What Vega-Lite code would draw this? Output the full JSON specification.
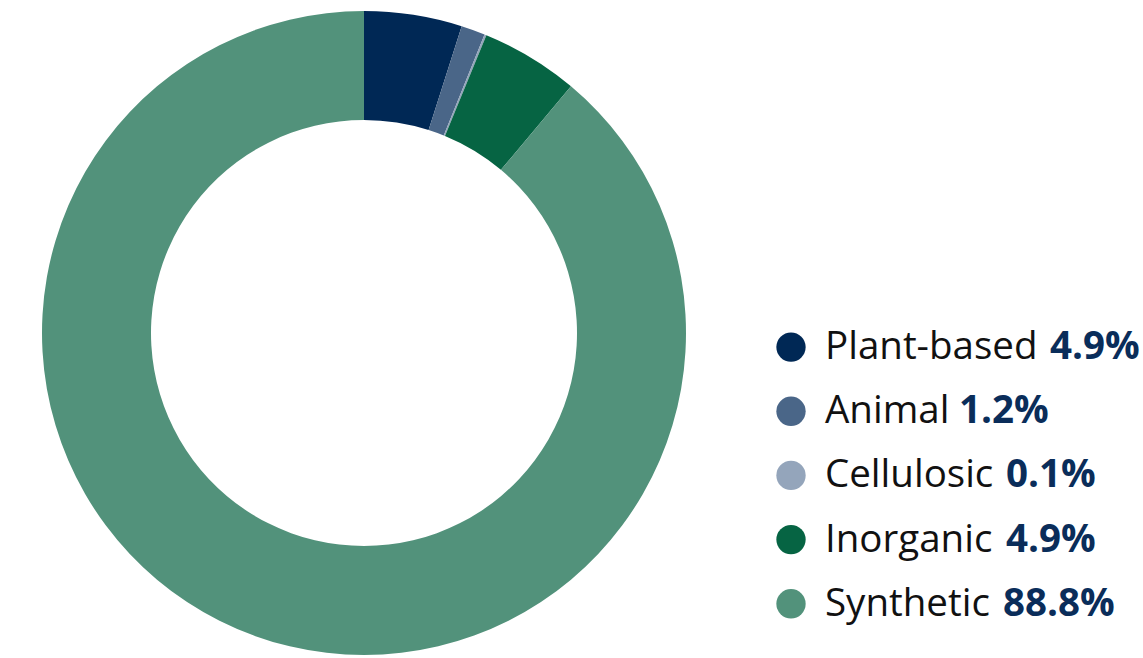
{
  "$schema": "https://vega.github.io/schema/vega-lite/v6.json",
  "padding": 0,
  "spacing": 0,
  "background": "white",
  "config": {"view": {"stroke": null}, "concat": {"spacing": 0}},
  "data": {"values": [
    {"order": 1, "label": "Plant-based", "share": 4.9, "value": "4.9%"},
    {"order": 2, "label": "Animal", "share": 1.2, "value": "1.2%"},
    {"order": 3, "label": "Cellulosic", "share": 0.1, "value": "0.1%"},
    {"order": 4, "label": "Inorganic", "share": 4.9, "value": "4.9%"},
    {"order": 5, "label": "Synthetic", "share": 88.8, "value": "88.8%"}
  ]},
  "hconcat": [
    {
      "width": 728,
      "height": 666,
      "mark": {"type": "arc", "outerRadius": 322, "innerRadius": 213},
      "encoding": {
        "theta": {"field": "share", "type": "quantitative", "stack": true},
        "order": {"field": "order", "type": "quantitative"},
        "color": {
          "field": "label", "type": "nominal", "legend": null,
          "scale": {
            "domain": ["Plant-based", "Animal", "Cellulosic", "Inorganic", "Synthetic"],
            "range": ["#002855", "#4a6688", "#94a5bb", "#066443", "#52927b"]
          }
        }
      }
    },
    {
      "width": 415,
      "height": 666,
      "encoding": {
        "y": {"field": "order", "type": "quantitative", "axis": null,
              "scale": {"domain": [-4.41, 5.97], "reverse": true, "zero": false, "nice": false}}
      },
      "layer": [
        {
          "mark": {"type": "point", "filled": true, "opacity": 1, "size": 860, "shape": "circle"},
          "encoding": {
            "x": {"datum": 63, "type": "quantitative", "axis": null, "scale": {"domain": [0, 415], "nice": false, "zero": false}},
            "color": {
              "field": "label", "type": "nominal", "legend": null,
              "scale": {
                "domain": ["Plant-based", "Animal", "Cellulosic", "Inorganic", "Synthetic"],
                "range": ["#002855", "#4a6688", "#94a5bb", "#066443", "#52927b"]
              }
            }
          }
        },
        {
          "mark": {"type": "text", "align": "left", "baseline": "middle", "font": "Open Sans", "fontSize": 38.5, "fontWeight": 400, "color": "#111111"},
          "encoding": {
            "x": {"datum": 97, "type": "quantitative"},
            "text": {"field": "label"}
          }
        },
        {
          "transform": [{"filter": "datum.order == 1"}],
          "mark": {"type": "text", "align": "left", "baseline": "middle", "font": "Open Sans", "fontSize": 38.5, "fontWeight": "bold", "color": "#0a2d5a"},
          "encoding": {"x": {"datum": 322, "type": "quantitative"}, "text": {"field": "value"}}
        },
        {
          "transform": [{"filter": "datum.order == 2"}],
          "mark": {"type": "text", "align": "left", "baseline": "middle", "font": "Open Sans", "fontSize": 38.5, "fontWeight": "bold", "color": "#0a2d5a"},
          "encoding": {"x": {"datum": 231, "type": "quantitative"}, "text": {"field": "value"}}
        },
        {
          "transform": [{"filter": "datum.order == 3"}],
          "mark": {"type": "text", "align": "left", "baseline": "middle", "font": "Open Sans", "fontSize": 38.5, "fontWeight": "bold", "color": "#0a2d5a"},
          "encoding": {"x": {"datum": 278, "type": "quantitative"}, "text": {"field": "value"}}
        },
        {
          "transform": [{"filter": "datum.order == 4"}],
          "mark": {"type": "text", "align": "left", "baseline": "middle", "font": "Open Sans", "fontSize": 38.5, "fontWeight": "bold", "color": "#0a2d5a"},
          "encoding": {"x": {"datum": 278, "type": "quantitative"}, "text": {"field": "value"}}
        },
        {
          "transform": [{"filter": "datum.order == 5"}],
          "mark": {"type": "text", "align": "left", "baseline": "middle", "font": "Open Sans", "fontSize": 38.5, "fontWeight": "bold", "color": "#0a2d5a"},
          "encoding": {"x": {"datum": 275, "type": "quantitative"}, "text": {"field": "value"}}
        }
      ]
    }
  ]
}
